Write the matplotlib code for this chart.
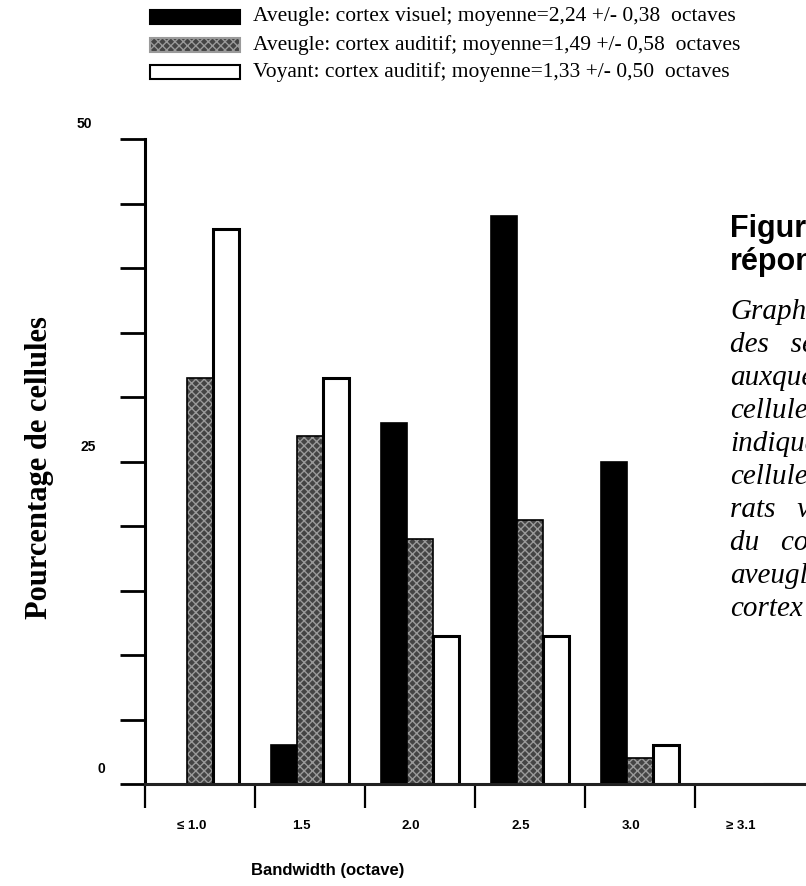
import numpy as np
import matplotlib
matplotlib.use('Agg')
from matplotlib import pyplot as plt
from matplotlib.patches import Rectangle
from matplotlib import transforms

# data (percent of cells per bandwidth bin)
categories = ['\u2264 1.0', '1.5', '2.0', '2.5', '3.0', '\u2265 3.1']
blind_visual = [0, 3, 28, 44, 25, 0]
blind_auditory = [31.5, 27, 19, 20.5, 2, 0]
sighted_auditory = [43, 31.5, 11.5, 11.5, 3, 0]
legend_labels = ['Aveugle: cortex visuel; moyenne=2,24 +/- 0,38  octaves',
                 'Aveugle: cortex auditif; moyenne=1,49 +/- 0,58  octaves',
                 'Voyant: cortex auditif; moyenne=1,33 +/- 0,50  octaves']
ytick_vals = [0, 25, 50]
side_title = ['Figure 8', 'réponse']
side_lines = ['Graphique', 'des   seuils', 'auxquels', 'cellules', 'indiquant', 'cellules',
              'rats   voyants', 'du   cortex', 'aveugles', 'cortex']

W, H = 806, 886
fig = plt.figure(figsize=(W / 100, H / 100), dpi=100)

def fx(px):
    return px / W

def fy(py):
    return 1 - py / H

ax = fig.add_axes([fx(145), fy(784), fx(806) - fx(145), fy(139) - fy(784)])
x = np.arange(len(categories))
w = 0.235
gray = '#444444'
speckle = '#9a9a9a'

ax.bar(x - w, blind_visual, w, color='black', edgecolor='black', linewidth=1.2)
ax.bar(x, blind_auditory, w, color=gray, edgecolor=speckle, hatch='xxxx', linewidth=0)
ax.bar(x, blind_auditory, w, fill=False, edgecolor='black', linewidth=1.2)
ax.bar(x + w, sighted_auditory, w, color='white', edgecolor='black', linewidth=2.2)

ax.set_xlim(-0.5, 5.51)
ax.set_ylim(0, 50)
for s in ['top', 'right']:
    ax.spines[s].set_visible(False)
ax.spines['left'].set_linewidth(2.2)
ax.spines['bottom'].set_linewidth(2.2)
ax.spines['bottom'].set_color('#222222')

ax.set_yticks(np.arange(0, 51, 5))
ax.set_yticklabels([])
ax.tick_params(axis='y', direction='out', length=18, width=2.0)
ax.set_xticks(np.arange(-0.5, 5, 1))
ax.set_xticklabels([])
ax.tick_params(axis='x', direction='out', length=17, width=1.6)

# y tick labels sit a bit above their ticks
ytrans = transforms.blended_transform_factory(fig.transFigure, ax.transData)
ytrans = transforms.offset_copy(ytrans, fig=fig, y=15, units='dots')
label_x = [101, 88, 84]
for v, lx in zip(ytick_vals, label_x):
    ax.text(fx(lx), v, str(v), transform=ytrans, ha='center', va='center',
            fontsize=10, fontweight='bold', family='Liberation Sans')

xtrans = transforms.blended_transform_factory(ax.transData, fig.transFigure)
for i, lab in enumerate(categories):
    ax.text(x[i] - 0.08, fy(826), lab, transform=xtrans, ha='center', va='center',
            fontsize=9.5, fontweight='bold', family='Liberation Sans')

fig.text(fx(328), fy(870), 'Bandwidth (octave)', ha='center', va='center',
         fontsize=12, fontweight='bold', family='Liberation Sans')
fig.text(fx(40), fy(468), 'Pourcentage de cellules', rotation=90, ha='center', va='center',
         fontsize=22, fontweight='bold', family='Liberation Serif')

# legend drawn by hand at the top
styles = [dict(facecolor='black', edgecolor='black'),
          dict(facecolor=gray, edgecolor=speckle, hatch='xxxx'),
          dict(facecolor='white', edgecolor='black')]
ys = [17, 45, 72]
for lab, st, yy in zip(legend_labels, styles, ys):
    r = Rectangle((fx(150), fy(yy + 7)), fx(240) - fx(150), fy(yy - 7) - fy(yy + 7),
                  transform=fig.transFigure, linewidth=1.5, **st)
    fig.patches.append(r)
    fig.text(fx(253), fy(yy), lab, ha='left', va='center', fontsize=15.5, family='Liberation Serif')

# caption text from the page, cut by the right edge
fig.text(fx(730), fy(229), side_title[0], ha='left', va='center', fontsize=22, fontweight='bold',
         family='Liberation Sans')
fig.text(fx(730), fy(262), side_title[1], ha='left', va='center', fontsize=22, fontweight='bold',
         family='Liberation Sans')
for i, line in enumerate(side_lines):
    fig.text(fx(730), fy(319 + i * 33), line, ha='left', va='baseline', fontsize=21,
             style='italic', family='Liberation Serif')

fig.savefig('out.png', dpi=100)
